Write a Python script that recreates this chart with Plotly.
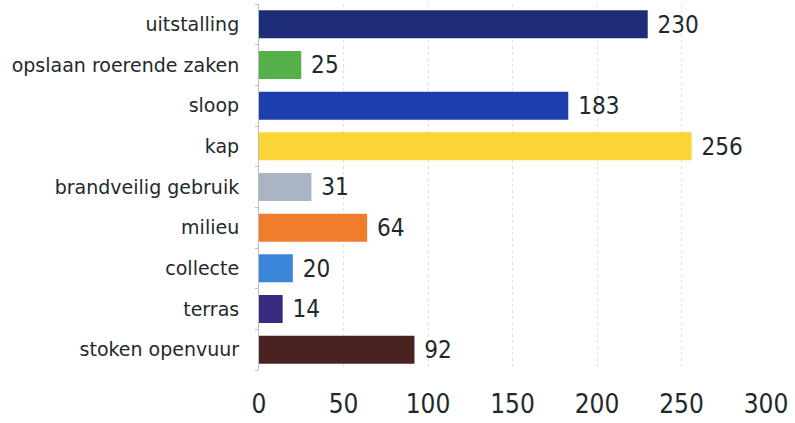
import plotly.graph_objects as go

# categories, top to bottom as in the picture
categories = ["uitstalling", "opslaan roerende zaken", "sloop", "kap",
              "brandveilig gebruik", "milieu", "collecte", "terras",
              "stoken openvuur"]
values = [230, 25, 183, 256, 31, 64, 20, 14, 92]
bar_colors = ["#1f2c78", "#55b04a", "#1d3fae", "#fbd435", "#a9b5c3",
              "#f07d2c", "#3b86d8", "#3a2a80", "#4a2222"]
x_ticks = [0, 50, 100, 150, 200, 250, 300]

num_font = "DejaVu Sans Condensed, DejaVu Sans"

fig = go.Figure(go.Bar(
    x=values,
    y=categories,
    orientation="h",
    marker=dict(color=bar_colors, line=dict(width=0)),
    text=values,
    texttemplate=" %{text}",
    textposition="outside",
    textfont=dict(family=num_font, size=30, color="#1e2a2a"),
    cliponaxis=False,
))

fig.update_layout(
    width=795, height=423,
    margin=dict(l=259, r=29, t=4, b=53),
    paper_bgcolor="white",
    plot_bgcolor="white",
    bargap=0.31,
    showlegend=False,
    font=dict(family="DejaVu Sans", color="#1e2a2a"),
)

fig.update_xaxes(
    range=[0, 300],
    tickvals=x_ticks,
    tickfont=dict(family=num_font, size=26, color="#1e2a2a"),
    showgrid=True,
    gridcolor="#d6e4ee",
    griddash="dot",
    gridwidth=1,
    zeroline=False,
    showline=False,
    ticklabelstandoff=16,
    automargin=False,
)

fig.update_yaxes(
    categoryorder="array",
    categoryarray=categories[::-1],
    tickfont=dict(family="DejaVu Sans", size=19, color="#1e2a2a"),
    showline=True,
    linecolor="#b8bec4",
    linewidth=1,
    ticks="outside",
    tickson="boundaries",
    ticklen=3,
    tickcolor="#b8bec4",
    ticklabelstandoff=15,
    automargin=False,
)

# page body has a default 8px margin; drop it so the figure fills the window
fig.write_html("out.html", config={"displayModeBar": False},
               post_script="document.body.style.margin='0';")
